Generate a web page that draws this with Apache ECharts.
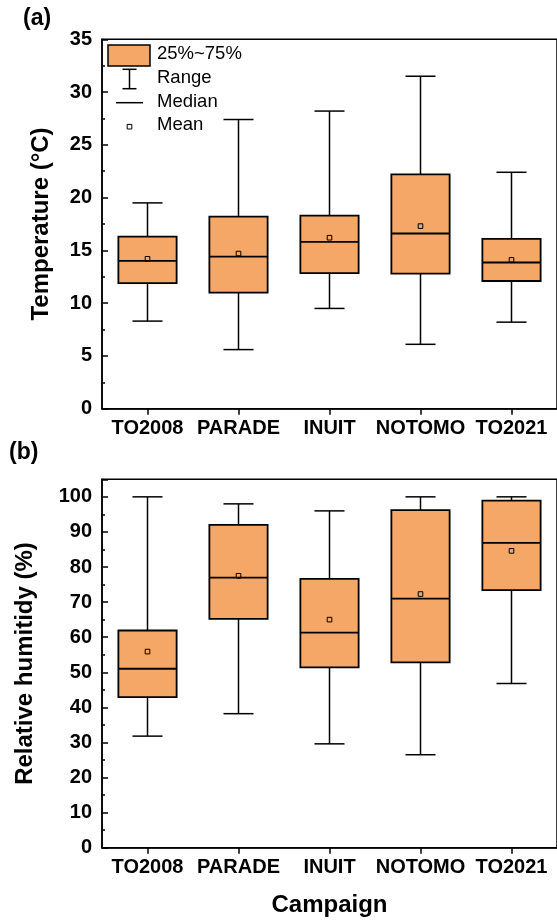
<!DOCTYPE html>
<html>
<head>
<meta charset="utf-8">
<script src="https://cdn.jsdelivr.net/npm/echarts@6/dist/echarts.min.js"></script>
<style>
html,body{margin:0;padding:0;background:#fff;}
#chart{width:557px;height:924px;}
</style>
</head>
<body>
<div id="chart"></div>
<script>
const categories = ['TO2008', 'PARADE', 'INUIT', 'NOTOMO', 'TO2021'];

const tempMin    = [8.3, 5.6, 9.5, 6.1, 8.2];
const tempQ1     = [11.9, 11.0, 12.85, 12.8, 12.1];
const tempMedian = [14.0, 14.4, 15.8, 16.6, 13.85];
const tempQ3     = [16.3, 18.2, 18.3, 22.2, 16.1];
const tempMax    = [19.5, 27.4, 28.2, 31.5, 22.4];
const tempMean   = [14.2, 14.7, 16.2, 17.3, 14.1];

const rhMin    = [31.8, 38.2, 29.6, 26.5, 46.8];
const rhQ1     = [42.9, 65.2, 51.4, 52.8, 73.4];
const rhMedian = [51.0, 77.0, 61.3, 71.0, 86.9];
const rhQ3     = [61.9, 92.0, 76.6, 96.2, 98.9];
const rhMax    = [100, 98.0, 96.0, 100, 100];
const rhMean   = [55.9, 77.5, 65.0, 72.3, 84.6];

const legendLabels = ['25%~75%', 'Range', 'Median', 'Mean'];

const FONT = "'Liberation Sans', Arial, sans-serif";
const BOX_COLOR = '#F4A766';

function build(mins, q1s, meds, q3s, maxs, means) {
  return categories.map((c, i) => [i, mins[i], q1s[i], meds[i], q3s[i], maxs[i], means[i]]);
}

function renderBox(params, api) {
  const idx = api.value(0);
  const cx = api.coord([idx, 0])[0];
  const py = v => api.coord([idx, v])[1];
  const yMin = py(api.value(1)), yQ1 = py(api.value(2)), yMed = py(api.value(3)),
        yQ3 = py(api.value(4)), yMax = py(api.value(5)), yMean = py(api.value(6));
  const band = api.size([1, 0])[0];
  const bw = band * 0.64, cw = band * 0.33;
  const ls = { stroke: '#000', lineWidth: 1.5 };
  return {
    type: 'group',
    children: [
      { type: 'line', shape: { x1: cx, y1: yQ3, x2: cx, y2: yMax }, style: ls },
      { type: 'line', shape: { x1: cx, y1: yQ1, x2: cx, y2: yMin }, style: ls },
      { type: 'line', shape: { x1: cx - cw / 2, y1: yMax, x2: cx + cw / 2, y2: yMax }, style: ls },
      { type: 'line', shape: { x1: cx - cw / 2, y1: yMin, x2: cx + cw / 2, y2: yMin }, style: ls },
      { type: 'rect', shape: { x: cx - bw / 2, y: yQ3, width: bw, height: yQ1 - yQ3 },
        style: { fill: BOX_COLOR, stroke: '#000', lineWidth: 1.8 } },
      { type: 'line', shape: { x1: cx - bw / 2, y1: yMed, x2: cx + bw / 2, y2: yMed },
        style: { stroke: '#000', lineWidth: 1.8 } },
      { type: 'rect', shape: { x: cx - 2.3, y: yMean - 2.3, width: 4.6, height: 4.6 },
        style: { fill: 'none', stroke: '#000', lineWidth: 1 } }
    ]
  };
}

const xAxisCommon = {
  type: 'category',
  data: categories,
  boundaryGap: true,
  axisLine: { show: true, lineStyle: { color: '#000', width: 1.5 } },
  axisTick: { show: true, alignWithLabel: true, length: 6, lineStyle: { color: '#000', width: 1.5 } },
  axisLabel: { color: '#000', fontFamily: FONT, fontWeight: 'bold', fontSize: 20, margin: 10, interval: 0 },
  splitLine: { show: false }
};

const yAxisCommon = {
  type: 'value',
  nameLocation: 'middle',
  nameTextStyle: { color: '#000', fontFamily: FONT, fontWeight: 'bold', fontSize: 24 },
  axisLine: { show: true, lineStyle: { color: '#000', width: 1.5 } },
  axisTick: { show: true, inside: true, length: 6, lineStyle: { color: '#000', width: 1.5 } },
  minorTick: { show: true, splitNumber: 2, length: 3, lineStyle: { color: '#000', width: 1.5 } },
  axisLabel: { color: '#000', fontFamily: FONT, fontWeight: 'bold', fontSize: 20, margin: 10 },
  splitLine: { show: false },
  minorSplitLine: { show: false }
};

const legendText = (txt, y) => ({
  type: 'text', left: 157, top: y - 11,
  style: { text: txt, font: '18.5px ' + FONT, fill: '#000' }
});

const option = {
  animation: false,
  backgroundColor: '#fff',
  grid: [
    { left: 102, width: 457.5, top: 39.3, height: 369.4, show: true, borderColor: '#000', borderWidth: 1.5, backgroundColor: 'transparent' },
    { left: 102, width: 457.5, top: 479.3, height: 368.4, show: true, borderColor: '#000', borderWidth: 1.5, backgroundColor: 'transparent' }
  ],
  xAxis: [
    Object.assign({ gridIndex: 0 }, xAxisCommon),
    Object.assign({ gridIndex: 1, name: 'Campaign', nameLocation: 'middle', nameGap: 46,
      nameTextStyle: { color: '#000', fontFamily: FONT, fontWeight: 'bold', fontSize: 24 } }, xAxisCommon)
  ],
  yAxis: [
    Object.assign({}, yAxisCommon, { gridIndex: 0, min: 0, max: 35, interval: 5, name: 'Temperature (°C)', nameGap: 49 }),
    Object.assign({}, yAxisCommon, { gridIndex: 1, min: 0, max: 105, interval: 10, name: 'Relative humitidy (%)', nameGap: 65,
      axisLabel: Object.assign({}, yAxisCommon.axisLabel, { showMaxLabel: false }) })
  ],
  series: [
    { type: 'custom', xAxisIndex: 0, yAxisIndex: 0, renderItem: renderBox,
      encode: { x: 0, y: [1, 2, 3, 4, 5, 6] }, data: build(tempMin, tempQ1, tempMedian, tempQ3, tempMax, tempMean) },
    { type: 'custom', xAxisIndex: 1, yAxisIndex: 1, renderItem: renderBox,
      encode: { x: 0, y: [1, 2, 3, 4, 5, 6] }, data: build(rhMin, rhQ1, rhMedian, rhQ3, rhMax, rhMean) }
  ],
  graphic: [
    { type: 'text', left: 23, top: 7, style: { text: '(a)', font: 'bold 23px ' + FONT, fill: '#000' } },
    { type: 'text', left: 9, top: 441, style: { text: '(b)', font: 'bold 23px ' + FONT, fill: '#000' } },
    { type: 'rect', shape: { x: 108, y: 45, width: 42, height: 21 }, style: { fill: BOX_COLOR, stroke: '#000', lineWidth: 1.5 } },
    { type: 'line', shape: { x1: 129.5, y1: 69.3, x2: 129.5, y2: 88.7 }, style: { stroke: '#000', lineWidth: 1.5 } },
    { type: 'line', shape: { x1: 122.5, y1: 69.3, x2: 136.5, y2: 69.3 }, style: { stroke: '#000', lineWidth: 1.5 } },
    { type: 'line', shape: { x1: 122.5, y1: 88.7, x2: 136.5, y2: 88.7 }, style: { stroke: '#000', lineWidth: 1.5 } },
    { type: 'line', shape: { x1: 116, y1: 102.7, x2: 143, y2: 102.7 }, style: { stroke: '#000', lineWidth: 1.5 } },
    { type: 'rect', shape: { x: 127.2, y: 124.4, width: 4.6, height: 4.6 }, style: { fill: 'none', stroke: '#000', lineWidth: 1 } },
    legendText(legendLabels[0], 55.5),
    legendText(legendLabels[1], 79),
    legendText(legendLabels[2], 103),
    legendText(legendLabels[3], 126.5)
  ]
};

const chart = echarts.init(document.getElementById('chart'), null, { renderer: 'canvas' });
chart.setOption(option);
</script>
</body>
</html>
